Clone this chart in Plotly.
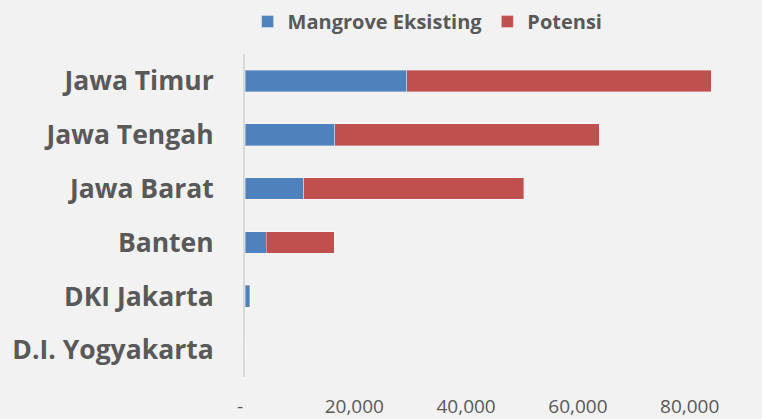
import plotly.graph_objects as go

provinces = ["Jawa Timur", "Jawa Tengah", "Jawa Barat", "Banten", "DKI Jakarta", "D.I. Yogyakarta"]
mangrove_eksisting = [28900, 16100, 10500, 3800, 800, 0]
potensi = [54500, 47300, 39400, 12200, 100, 0]

tick_vals = [0, 20000, 40000, 60000, 80000]
tick_text = ["-\u00a0\u00a0", "20,000\u00a0", "40,000\u00a0", "60,000\u00a0", "80,000\u00a0"]

FONT = "Open Sans"
GREY = "#595959"

fig = go.Figure()
fig.add_trace(go.Bar(
    y=provinces, x=mangrove_eksisting, orientation="h", name="Mangrove Eksisting",
    marker=dict(color="#4F81BD", line=dict(color="rgba(255,255,255,0.35)", width=1)),
))
fig.add_trace(go.Bar(
    y=provinces, x=potensi, orientation="h", name="Potensi",
    marker=dict(color="#C0504D", line=dict(color="rgba(255,255,255,0.35)", width=1)),
))

fig.update_layout(
    barmode="stack",
    bargap=0.6,
    width=762, height=419,
    margin=dict(l=245, r=0, t=54, b=42),
    paper_bgcolor="#F2F2F2",
    plot_bgcolor="#F2F2F2",
    showlegend=True,
    legend=dict(
        orientation="h", traceorder="normal", x=0.005, xanchor="left",
        y=0.995, yanchor="top", yref="container",
        font=dict(family=FONT, size=20, color=GREY, weight="bold"),
        bgcolor="rgba(0,0,0,0)", itemclick=False,
    ),
    xaxis=dict(
        range=[0, 92500], tickvals=tick_vals, ticktext=tick_text,
        showgrid=False, zeroline=False, showline=False,
        tickfont=dict(family=FONT, size=19, color=GREY),
        ticks="", ticklabelstandoff=16,
    ),
    yaxis=dict(
        autorange="reversed", showgrid=False, zeroline=False,
        showline=True, linecolor="#D9D9D9", linewidth=2,
        tickfont=dict(family=FONT, size=26.5, color=GREY, weight="bold"),
        ticks="", ticklabelstandoff=24,
    ),
)

fig.write_html(
    "out.html",
    config={"displayModeBar": False},
    post_script="document.body.style.margin='0';document.body.style.background='#F2F2F2';",
)
